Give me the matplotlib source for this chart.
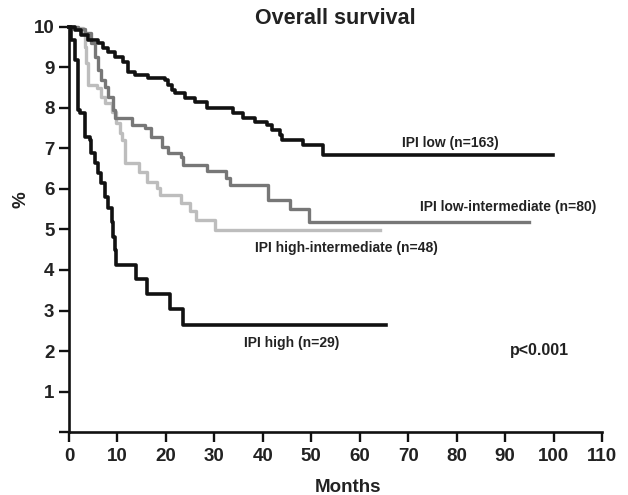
import matplotlib
matplotlib.use("Agg")
import matplotlib.pyplot as plt

plt.rcParams['font.family'] = ['Liberation Sans', 'DejaVu Sans']
plt.rcParams['font.weight'] = 'bold'

# ---- data (survival on 0-10 scale, months) ----
low_t = [0, 1.2, 2.5, 3.9, 6, 7, 8, 9.4, 11.2, 12.2, 13.6, 16.3, 19.8, 20.5, 21.2, 21.8,
         23.9, 26, 28.4, 33.9, 36, 38.4, 40.8, 41.8, 43.5, 44, 48.3, 52.5, 99.8]
low_v = [10, 9.93, 9.8, 9.68, 9.6, 9.47, 9.39, 9.27, 9.14, 8.9, 8.81, 8.73, 8.69, 8.57, 8.45, 8.36,
         8.24, 8.16, 7.99, 7.87, 7.75, 7.66, 7.58, 7.46, 7.33, 7.21, 7.09, 6.84, 6.84]

lowint_t = [0, 1.9, 3.2, 4.6, 5.3, 6.0, 6.7, 7.4, 8.1, 9.1, 9.4, 12.9, 15.6, 17.0, 19.1, 20.5,
            23.2, 23.6, 28.4, 32.5, 33.2, 41.1, 45.6, 49.5, 95]
lowint_v = [10, 9.95, 9.84, 9.6, 9.27, 8.94, 8.69, 8.53, 8.28, 7.95, 7.75, 7.58, 7.5, 7.29, 7.04, 6.9,
            6.8, 6.59, 6.45, 6.28, 6.1, 5.73, 5.5, 5.19, 5.19]

highint_t = [0, 1.9, 2.9, 3.3, 3.6, 4.0, 5.7, 6.7, 7.4, 8.8, 9.8, 10.5, 11.0, 11.6, 14.5, 16.0,
             18.2, 18.8, 23.2, 24.9, 26.3, 30.1, 64.2]
highint_v = [10, 9.97, 9.84, 9.51, 9.1, 8.57, 8.49, 8.28, 8.12, 7.91, 7.62, 7.38, 7.2, 6.63, 6.43, 6.18,
             6.02, 5.85, 5.65, 5.45, 5.23, 4.99, 4.99]

high_t = [0, 0.5, 1.2, 1.9, 2.2, 3.2, 4.3, 4.6, 5.3, 6.0, 6.7, 7.4, 8.0, 8.8, 9.1, 9.4, 9.8,
          13.9, 16.0, 20.8, 23.6, 65.5]
high_v = [10, 9.68, 9.19, 7.95, 7.87, 7.28, 7.21, 6.88, 6.63, 6.39, 6.15, 5.81, 5.52, 5.19, 4.82, 4.49, 4.12,
          3.77, 3.41, 3.03, 2.64, 2.64]

x_ticks = list(range(0, 111, 10))
y_ticks = list(range(0, 11))
y_labels = [''] + [str(v) for v in range(1, 11)]

labels = ["IPI low (n=163)", "IPI low-intermediate (n=80)",
          "IPI high-intermediate (n=48)", "IPI high (n=29)"]

fig = plt.figure(figsize=(6.28, 4.95), dpi=100)
ax = fig.add_axes([69 / 628, 63 / 495, 533 / 628, 405 / 495])

ax.plot(highint_t, highint_v, drawstyle='steps-post', color='#bdbdbd', lw=2.4, clip_on=False, zorder=2)
ax.plot(lowint_t, lowint_v, drawstyle='steps-post', color='#777777', lw=2.4, clip_on=False, zorder=3)
ax.plot(low_t, low_v, drawstyle='steps-post', color='#111111', lw=2.6, clip_on=False, zorder=4)
ax.plot(high_t, high_v, drawstyle='steps-post', color='#111111', lw=2.6, clip_on=False, zorder=4)

ax.set_xlim(0, 110)
ax.set_ylim(0, 10)
ax.set_xticks(x_ticks)
ax.set_xticklabels([str(v) for v in x_ticks])
ax.set_yticks(y_ticks)
ax.set_yticklabels(y_labels)
for s in ['top', 'right']:
    ax.spines[s].set_visible(False)
for s in ['left', 'bottom']:
    ax.spines[s].set_linewidth(1.9)
    ax.spines[s].set_color('#111111')
ax.tick_params(axis='both', direction='out', length=7.5, width=1.7, color='#111111',
               labelsize=13.5, labelcolor='#222222')
ax.tick_params(axis='y', pad=3)
ax.tick_params(axis='x', pad=4)
for lbl in ax.get_xticklabels() + ax.get_yticklabels():
    lbl.set_fontweight('bold')

tc = '#222222'
ax.text(78.7, 7.14, labels[0], ha='center', va='center', fontsize=10, fontweight='bold', color=tc)
ax.text(90.6, 5.56, labels[1], ha='center', va='center', fontsize=10, fontweight='bold', color=tc)
ax.text(57.3, 4.54, labels[2], ha='center', va='center', fontsize=10, fontweight='bold', color=tc)
ax.text(46.0, 2.2, labels[3], ha='center', va='center', fontsize=10, fontweight='bold', color=tc)
ax.text(97.0, 2.02, "p<0.001", ha='center', va='center', fontsize=11.5, fontweight='bold', color=tc)

fig.text(335 / 628, 1 - 18 / 495, "Overall survival", ha='center', va='center',
         fontsize=15.5, fontweight='bold', color=tc)
fig.text(347.5 / 628, 1 - 488 / 495, "Months", ha='center', va='center',
         fontsize=13.5, fontweight='bold', color=tc)
fig.text(21 / 628, 1 - 200 / 495, "%", ha='center', va='center', rotation=90,
         fontsize=13.5, fontweight='bold', color=tc)

fig.savefig("out.png", dpi=100)
